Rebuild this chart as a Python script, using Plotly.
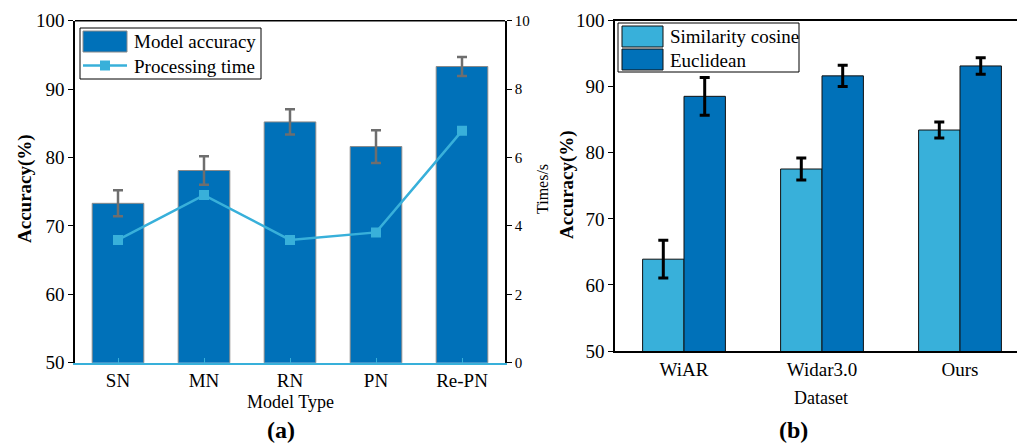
import plotly.graph_objects as go

# ---------------- data ----------------
models = ["SN", "MN", "RN", "PN", "Re-PN"]
model_acc = [73.3, 78.1, 85.2, 81.6, 93.3]
model_err = [1.9, 2.1, 1.85, 2.4, 1.4]
proc_time = [3.59, 4.90, 3.59, 3.81, 6.78]

datasets = ["WiAR", "Widar3.0", "Ours"]
cos_acc = [63.9, 77.55, 83.45]
cos_err = [2.85, 1.67, 1.2]
euc_acc = [88.55, 91.65, 93.15]
euc_err = [2.85, 1.6, 1.25]

W, H = 1017, 445
DARK = "#0071B9"
LIGHT = "#38B0DA"
FONT = "Liberation Serif"


def px(x):
    return x / W


def py(y):
    return 1 - y / H


fig = go.Figure()

# ---------- panel (a) ----------
fig.add_trace(go.Bar(
    x=models, y=model_acc, name="Model accuracy",
    marker=dict(color=DARK, line=dict(color="#8a8a8a", width=1)),
    error_y=dict(type="data", array=model_err, color="#6e6e6e", thickness=2.5, width=5),
    xaxis="x", yaxis="y", showlegend=False,
))
fig.add_trace(go.Scatter(
    x=models, y=proc_time, name="Processing time", mode="lines+markers",
    line=dict(color=LIGHT, width=2.5),
    marker=dict(symbol="square", size=10, color=LIGHT),
    xaxis="x", yaxis="y2", showlegend=False,
))

# ---------- panel (b) ----------
fig.add_trace(go.Bar(
    x=datasets, y=cos_acc, name="Similarity cosine",
    marker=dict(color=LIGHT, line=dict(color="#111111", width=1)),
    error_y=dict(type="data", array=cos_err, color="black", thickness=3, width=5),
    xaxis="x3", yaxis="y3", showlegend=False,
))
fig.add_trace(go.Bar(
    x=datasets, y=euc_acc, name="Euclidean",
    marker=dict(color=DARK, line=dict(color="#111111", width=1)),
    error_y=dict(type="data", array=euc_err, color="black", thickness=3, width=5),
    xaxis="x3", yaxis="y3", showlegend=False,
))

tickfont = dict(family=FONT, size=19, color="black")

a_dom_x = [px(75), px(505)]
a_dom_y = [py(362.7), py(20.7)]
b_dom_x = [px(615), 1.0]
b_dom_y = [py(351), py(20.7)]

fig.update_layout(
    width=W, height=H,
    margin=dict(l=0, r=0, t=0, b=0, autoexpand=False),
    paper_bgcolor="white", plot_bgcolor="white",
    barmode="group", bargap=0.4, bargroupgap=0,
    font=dict(family=FONT, size=19, color="black"),
    xaxis=dict(
        domain=a_dom_x, anchor="y", range=[-0.5, 4.5], automargin=False,
        showline=True, linecolor=LIGHT, linewidth=1.5,
        ticks="inside", tickcolor=LIGHT, ticklen=5, tickwidth=1,
        tickfont=tickfont, showgrid=False, zeroline=False,
    ),
    yaxis=dict(
        domain=a_dom_y, anchor="x", range=[50, 100], dtick=10, automargin=False,
        showline=True, linecolor="black", linewidth=1.5,
        ticks="outside", ticklen=5, tickcolor="black",
        tickfont=tickfont, showgrid=False, zeroline=False,
    ),
    yaxis2=dict(
        overlaying="y", side="right", anchor="x", range=[0, 10], dtick=2,
        automargin=False,
        showline=True, linecolor="black", linewidth=1.5,
        ticks="outside", ticklen=5, tickcolor="black",
        tickfont=dict(family=FONT, size=15, color="black"),
        showgrid=False, zeroline=False,
    ),
    xaxis3=dict(
        domain=b_dom_x, anchor="y3", range=[-0.5, 2.413], automargin=False,
        showline=True, linecolor="black", linewidth=1.5, mirror=True,
        ticks="", tickfont=tickfont, showgrid=False, zeroline=False,
    ),
    yaxis3=dict(
        domain=b_dom_y, anchor="x3", range=[50, 100], dtick=10, automargin=False,
        showline=True, linecolor="black", linewidth=1.5,
        ticks="outside", ticklen=5, tickcolor="black",
        tickfont=tickfont, showgrid=False, zeroline=False,
    ),
)

shapes = []
# top border of panel (a)
shapes.append(dict(type="line", xref="x domain", yref="y domain",
                   x0=0, x1=1, y0=1, y1=1, line=dict(color="black", width=1.5)))

# legend (a)
shapes.append(dict(type="rect", xref="paper", yref="paper",
                   x0=px(80), x1=px(261), y0=py(79), y1=py(28),
                   line=dict(color="black", width=1), fillcolor="white"))
shapes.append(dict(type="rect", xref="paper", yref="paper",
                   x0=px(83), x1=px(127), y0=py(52), y1=py(31),
                   line=dict(color="#8a8a8a", width=1), fillcolor=DARK))
shapes.append(dict(type="line", xref="paper", yref="paper",
                   x0=px(83), x1=px(127), y0=py(65.5), y1=py(65.5),
                   line=dict(color=LIGHT, width=2.5)))
shapes.append(dict(type="rect", xref="paper", yref="paper",
                   x0=px(100), x1=px(110), y0=py(70.5), y1=py(60.5),
                   line=dict(color=LIGHT, width=0), fillcolor=LIGHT))

# legend (b)
shapes.append(dict(type="rect", xref="paper", yref="paper",
                   x0=px(618), x1=px(799), y0=py(72), y1=py(23),
                   line=dict(color="black", width=1), fillcolor="white"))
shapes.append(dict(type="rect", xref="paper", yref="paper",
                   x0=px(622), x1=px(663), y0=py(47), y1=py(26),
                   line=dict(color="#111111", width=1), fillcolor=LIGHT))
shapes.append(dict(type="rect", xref="paper", yref="paper",
                   x0=px(622), x1=px(663), y0=py(70), y1=py(49),
                   line=dict(color="#111111", width=1), fillcolor=DARK))

fig.update_layout(shapes=shapes)

ann = []


def text(x, y, s, size=19, bold=False, angle=0, xanchor="center"):
    ann.append(dict(
        x=px(x), y=py(y), xref="paper", yref="paper",
        text=f"<b>{s}</b>" if bold else s, showarrow=False,
        textangle=angle, xanchor=xanchor, yanchor="middle",
        font=dict(family=FONT, size=size, color="black"),
    ))


text(132, 42, "Model accuracy", xanchor="left")
text(132, 66, "Processing time", xanchor="left")
text(668, 36.5, "Similarity cosine", xanchor="left")
text(668, 60, "Euclidean", xanchor="left")

text(290, 402, "Model Type", size=18)
text(821, 398, "Dataset", size=18)
text(25, 189, "Accuracy(%)", bold=True, angle=-90)
text(542, 189, "Times/s", size=16, angle=-90)
text(567, 185, "Accuracy(%)", bold=True, angle=-90)
text(281, 430, "(a)", size=24, bold=True)
text(793, 430, "(b)", size=24, bold=True)

fig.update_layout(annotations=ann)

fig.write_html("out.html")
